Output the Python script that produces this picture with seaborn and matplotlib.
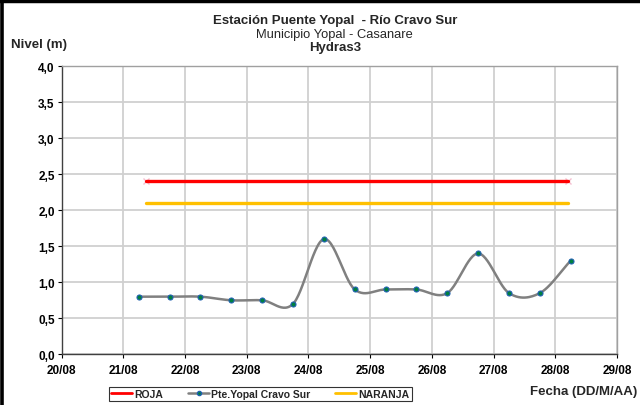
import numpy as np
import pandas as pd
import matplotlib
matplotlib.use('Agg')
import matplotlib.pyplot as plt
import matplotlib.dates as mdates
from matplotlib.lines import Line2D
import seaborn as sns

# readings every 12 h, starting 21/08 06:00
fechas = pd.date_range("2023-08-21 06:00", periods=15, freq="12h")
nivel = [0.8, 0.8, 0.8, 0.75, 0.75, 0.7, 1.6, 0.9, 0.9, 0.9, 0.85, 1.4, 0.85, 0.85, 1.3]

# alert thresholds
umbral_fechas = pd.to_datetime(["2023-08-21 09:00", "2023-08-28 05:00"])
roja = [2.4, 2.4]
naranja = [2.1, 2.1]

y_ticks = [0.0, 0.5, 1.0, 1.5, 2.0, 2.5, 3.0, 3.5, 4.0]
x_inicio = "2023-08-20"
x_fin = "2023-08-29"


def catmull_rom(x, y, n=30):
    # smoothed line like the spreadsheet "smooth line" option
    x = np.asarray(x, float)
    y = np.asarray(y, float)
    px = np.concatenate([[2 * x[0] - x[1]], x, [2 * x[-1] - x[-2]]])
    py = np.concatenate([[2 * y[0] - y[1]], y, [2 * y[-1] - y[-2]]])
    xs, ys = [], []
    t = np.linspace(0, 1, n)
    for i in range(1, len(px) - 2):
        for p, out in ((px, xs), (py, ys)):
            p0, p1, p2, p3 = p[i - 1], p[i], p[i + 1], p[i + 2]
            out.extend(0.5 * ((2 * p1) + (-p0 + p2) * t
                              + (2 * p0 - 5 * p1 + 4 * p2 - p3) * t ** 2
                              + (-p0 + 3 * p1 - 3 * p2 + p3) * t ** 3))
    return np.array(xs), np.array(ys)


sns.set_style("white")
plt.rcParams['font.family'] = ['Liberation Sans', 'DejaVu Sans']

fig = plt.figure(figsize=(6.4, 4.06), dpi=100)
ax = fig.add_axes([0.0963, 0.1249, 0.8677, 0.7094])

xn = mdates.date2num(fechas)
sx, sy = catmull_rom(xn, nivel)
un = mdates.date2num(umbral_fechas)

sns.lineplot(x=un, y=roja, ax=ax, color='#ff0000', linewidth=2.4, zorder=3)
sns.lineplot(x=un, y=naranja, ax=ax, color='#ffc000', linewidth=2.4, zorder=3)
ax.plot(un, roja, linestyle='none', marker='x', color='#f4c0d0', markersize=5, zorder=2)
sns.lineplot(x=sx, y=sy, ax=ax, sort=False, color='#808080', linewidth=1.8, zorder=4)
ax.plot(xn, nivel, linestyle='none', marker='o', markersize=3.6,
        markerfacecolor='#008040', markeredgecolor='#2060b0', markeredgewidth=0.8, zorder=5)

ax.set_xlim(mdates.date2num(pd.Timestamp(x_inicio)), mdates.date2num(pd.Timestamp(x_fin)))
ax.set_ylim(0, 4)
ax.xaxis.set_major_locator(mdates.DayLocator())
ax.xaxis.set_major_formatter(mdates.DateFormatter('%d/%m'))
ax.set_yticks(y_ticks)
ax.set_yticklabels([f"{v:.1f}".replace('.', ',') for v in y_ticks])
ax.grid(True, color='#d0d0d0', linewidth=1.3)
ax.set_axisbelow(True)
ax.tick_params(axis='both', labelsize=8.5, length=3, width=0.8, colors='black')
ax.tick_params(axis='y', direction='out', left=True, pad=2)
ax.tick_params(axis='x', direction='out', bottom=True, pad=4)
for lbl in ax.get_xticklabels() + ax.get_yticklabels():
    lbl.set_fontweight('bold')
for side in ('left', 'bottom'):
    ax.spines[side].set_color('#404040')
    ax.spines[side].set_linewidth(1.0)
for side in ('top', 'right'):
    ax.spines[side].set_color('#a0a0a0')
    ax.spines[side].set_linewidth(1.0)
ax.set_xlabel('')
ax.set_ylabel('')

fig.text(0.523, 0.949, 'Estación Puente Yopal  - Río Cravo Sur', ha='center', va='center',
         fontsize=9.5, fontweight='bold')
fig.text(0.523, 0.915, 'Municipio Yopal - Casanare', ha='center', va='center', fontsize=9.3)
fig.text(0.523, 0.882, 'Hydras3', ha='center', va='center', fontsize=9.5, fontweight='bold')
fig.text(0.017, 0.889, 'Nivel (m)', ha='left', va='center', fontsize=9.5, fontweight='bold')
fig.text(0.995, 0.034, 'Fecha (DD/M/AA)', ha='right', va='center', fontsize=9.5, fontweight='bold')

handles = [
    Line2D([], [], color='#ff0000', linewidth=2),
    Line2D([], [], color='#808080', linewidth=1.8, marker='o', markersize=3,
           markerfacecolor='#008040', markeredgecolor='#2060b0'),
    Line2D([], [], color='#ffc000', linewidth=2),
]
leg = fig.legend(handles, ['ROJA', 'Pte.Yopal Cravo Sur', 'NARANJA'], ncol=3,
                 loc='center', bbox_to_anchor=(0.407, 0.028),
                 frameon=True, fancybox=False, edgecolor='black', handlelength=2.0,
                 handletextpad=0.2, columnspacing=2.4, borderpad=0.2,
                 prop={'weight': 'bold', 'size': 7.5})
leg.get_frame().set_linewidth(0.8)

# thick black border on top and left edges of the image
fig.add_artist(Line2D([0, 1], [1 - 2 / 406, 1 - 2 / 406], transform=fig.transFigure,
                      color='black', linewidth=3.2))
fig.add_artist(Line2D([1.5 / 640, 1.5 / 640], [0, 1], transform=fig.transFigure,
                      color='black', linewidth=2.6))

fig.savefig('out.png', dpi=100)
